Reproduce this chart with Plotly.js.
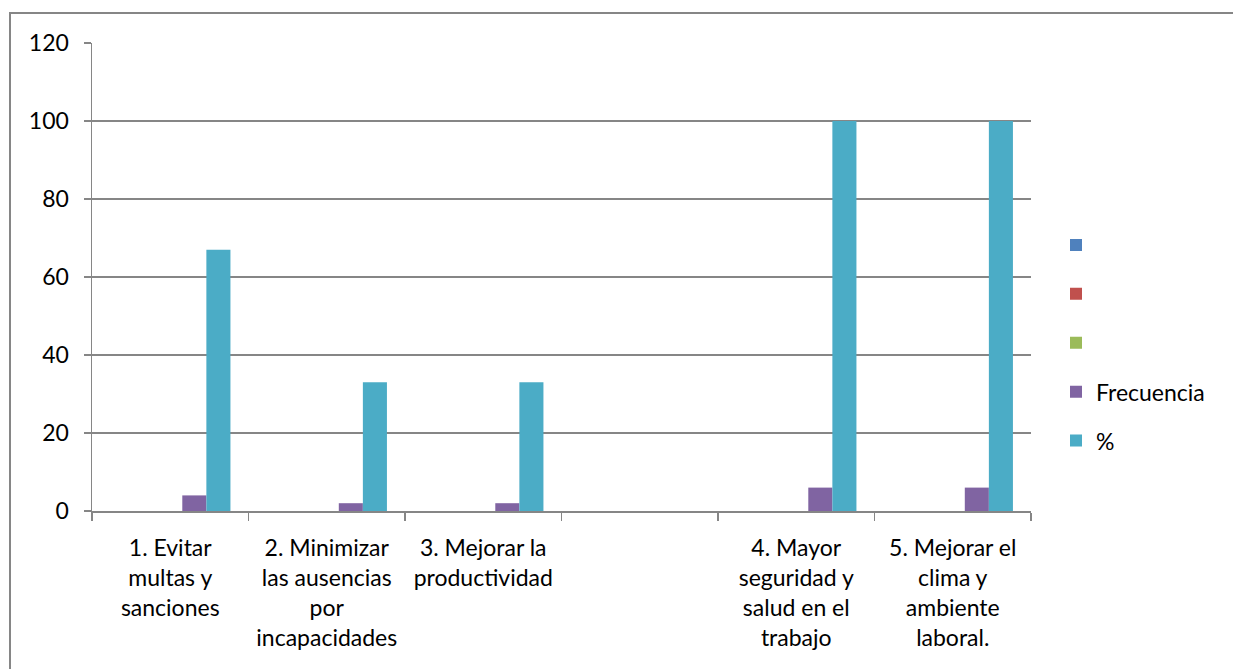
<!DOCTYPE html>
<html>
<head>
<meta charset="utf-8">
<script src="https://cdn.plot.ly/plotly-3.0.1.min.js"></script>
<style>html,body{margin:0;padding:0;background:#fff;}#chart{width:1233px;height:669px;}</style>
</head>
<body>
<div id="chart"></div>
<script>
const categories = [
  "1. Evitar<br>multas y<br>sanciones",
  "2. Minimizar<br>las ausencias<br>por<br>incapacidades",
  "3. Mejorar la<br>productividad",
  " ",
  "4. Mayor<br>seguridad y<br>salud en el<br>trabajo",
  "5. Mejorar el<br>clima y<br>ambiente<br>laboral."
];
const seriesNames = [" ", "  ", "   ", "Frecuencia", "%"];
const serie1 = [null, null, null, null, null, null];
const serie2 = [null, null, null, null, null, null];
const serie3 = [null, null, null, null, null, null];
const frecuencia = [4, 2, 2, null, 6, 6];
const porcentaje = [67, 33, 33, null, 100, 100];
const colors = ["#4F81BD", "#C0504D", "#9BBB59", "#8064A2", "#4BACC6"];
const seriesValues = [serie1, serie2, serie3, frecuencia, porcentaje];

const font = "Lato, 'Liberation Sans', sans-serif";
const FS = 23;
const traces = seriesValues.map((vals, i) => ({
  type: "bar",
  x: categories,
  y: vals,
  name: seriesNames[i],
  legendgroup: "g" + i,
  marker: {color: colors[i]},
  showlegend: true
}));

const L = 92, R = 1031, T = 43, B = 511;
const W = R - L, H = B - T;
const layout = {
  width: 1233, height: 669,
  margin: {l: L, r: 1233 - R, t: T, b: 669 - B},
  paper_bgcolor: "#fff", plot_bgcolor: "#fff",
  font: {family: font, size: FS, color: "#000"},
  barmode: "group",
  bargap: 1.5 / 6.5,
  bargroupgap: 0,
  showlegend: true,
  legend: {
    x: (1056 - L) / W, xanchor: "left",
    y: (B - 343) / H, yanchor: "middle",
    font: {family: font, size: FS, color: "#000"},
    tracegroupgap: 16,
    bgcolor: "rgba(0,0,0,0)"
  },
  xaxis: {
    type: "category",
    categoryorder: "array",
    categoryarray: categories,
    tickson: "boundaries",
    ticks: "outside", ticklen: 8, tickwidth: 1.5, tickcolor: "#868686",
    showline: true, linecolor: "#868686", linewidth: 1.5,
    showgrid: false, zeroline: false,
    tickangle: 0,
    ticklabelstandoff: 16,
    tickfont: {family: font, size: FS, color: "#000"},
    fixedrange: true
  },
  yaxis: {
    range: [0, 120], dtick: 20, tick0: 0,
    ticks: "outside", ticklen: 7, tickwidth: 1.5, tickcolor: "#868686",
    showline: true, linecolor: "#868686", linewidth: 1.5,
    showgrid: true, gridcolor: "#868686", gridwidth: 1.5,
    zeroline: false,
    ticklabelstandoff: 10,
    tickfont: {family: font, size: FS, color: "#000"},
    fixedrange: true
  },
  shapes: [{
    type: "rect", xref: "paper", yref: "paper",
    x0: (10 - L) / W, x1: (1240 - L) / W,
    y0: (B - 680) / H, y1: (B - 13) / H,
    line: {color: "#868686", width: 2},
    fillcolor: "rgba(0,0,0,0)", layer: "below"
  }]
};
Plotly.newPlot("chart", traces, layout, {staticPlot: true, displayModeBar: false});
</script>
</body>
</html>
